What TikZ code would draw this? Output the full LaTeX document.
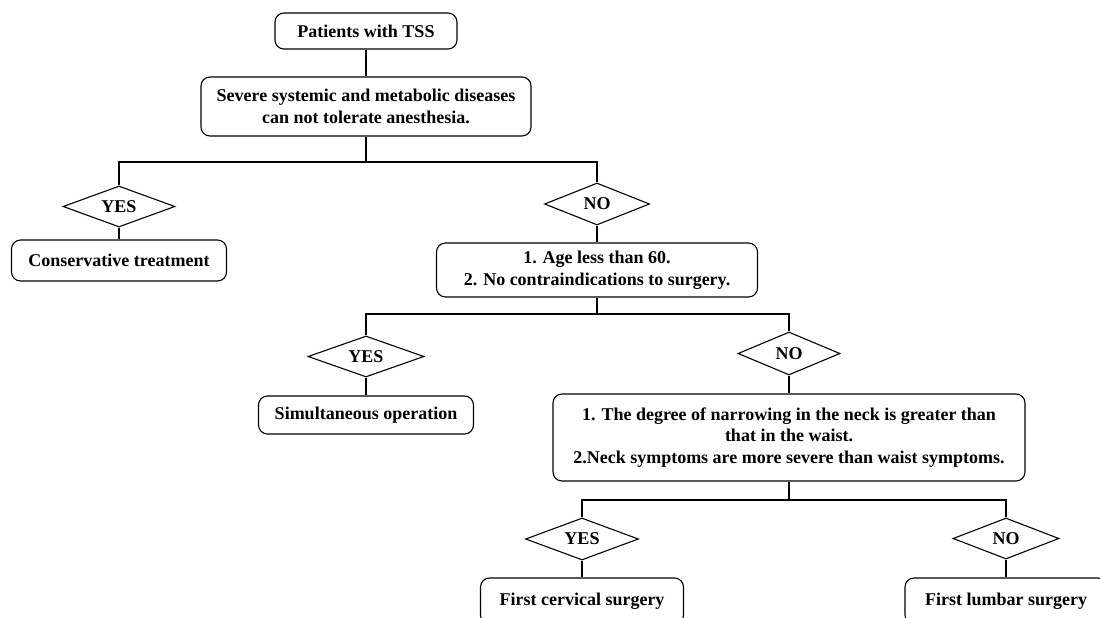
\documentclass[tikz,border=0pt]{standalone}
\usepackage{fontspec}
\setmainfont{Liberation Serif}
\usetikzlibrary{shapes.geometric}
\tikzset{
  box/.style={draw=black, line width=1.1pt, rounded corners=9pt, align=center, inner sep=0pt,
    font=\fontsize{18}{21.6}\selectfont\bfseries},
  dia/.style={draw=black, line width=1.1pt, diamond, aspect=2.7, inner sep=0pt,
    font=\fontsize{18}{21.6}\selectfont\bfseries},
  link/.style={draw=black, line width=1.1pt}
}
\begin{document}
\begin{tikzpicture}[x=1pt, y=-1pt]
\useasboundingbox (0,0) rectangle (1100,618);
\clip (0,0) rectangle (1100,618);
\fill[white] (0,0) rectangle (1100,618);
% level 0
\node[box, minimum width=182pt, minimum height=36pt] (top) at (366,31) {Patients with TSS};
\node[box, minimum width=330pt, minimum height=59pt] (sev) at (366,106.5)
  {Severe systemic and metabolic diseases\\can not tolerate anesthesia.};
% level 1
\node[dia, minimum width=112pt, minimum height=41pt] (y1) at (119,206.5) {YES};
\node[box, minimum width=215pt, minimum height=41pt] (cons) at (119,260.5) {Conservative treatment};
\node[dia, minimum width=105pt, minimum height=42pt] (n1) at (597,204) {NO};
\node[box, minimum width=321pt, minimum height=54pt] (age) at (597,270)
  {1. Age less than 60.\\2. No contraindications to surgery.};
% level 2
\node[dia, minimum width=116pt, minimum height=41pt] (y2) at (366,356.5) {YES};
\node[box, minimum width=215pt, minimum height=38pt] (sim) at (366,415) {Simultaneous operation};
\node[dia, minimum width=102pt, minimum height=43pt] (n2) at (789,353.5) {NO};
\node[box, minimum width=472pt, minimum height=87pt] (neck) at (789,437.5)
  {1. The degree of narrowing in the neck is greater than\\that in the waist.\\2.Neck symptoms are more severe than waist symptoms.};
% level 3
\node[dia, minimum width=113pt, minimum height=42pt] (y3) at (582,539) {YES};
\node[box, minimum width=203pt, minimum height=46pt] (cerv) at (582,601) {First cervical surgery};
\node[dia, minimum width=106pt, minimum height=41pt] (n3) at (1006,538.5) {NO};
\node[box, minimum width=202pt, minimum height=46pt] (lumb) at (1006,601) {First lumbar surgery};
% bus points
\coordinate (b1) at (366,162);
\coordinate (b2) at (597,314);
\coordinate (b3) at (789,500);
% connectors
\draw[link] (top) -- (sev);
\draw[link] (sev) -- (b1);
\draw[link] (y1.north) |- (b1) -| (n1.north);
\draw[link] (y1) -- (cons);
\draw[link] (n1) -- (age);
\draw[link] (age) -- (b2);
\draw[link] (y2.north) |- (b2) -| (n2.north);
\draw[link] (y2) -- (sim);
\draw[link] (n2) -- (neck);
\draw[link] (neck) -- (b3);
\draw[link] (y3.north) |- (b3) -| (n3.north);
\draw[link] (y3) -- (cerv);
\draw[link] (n3) -- (lumb);
\end{tikzpicture}
\end{document}
